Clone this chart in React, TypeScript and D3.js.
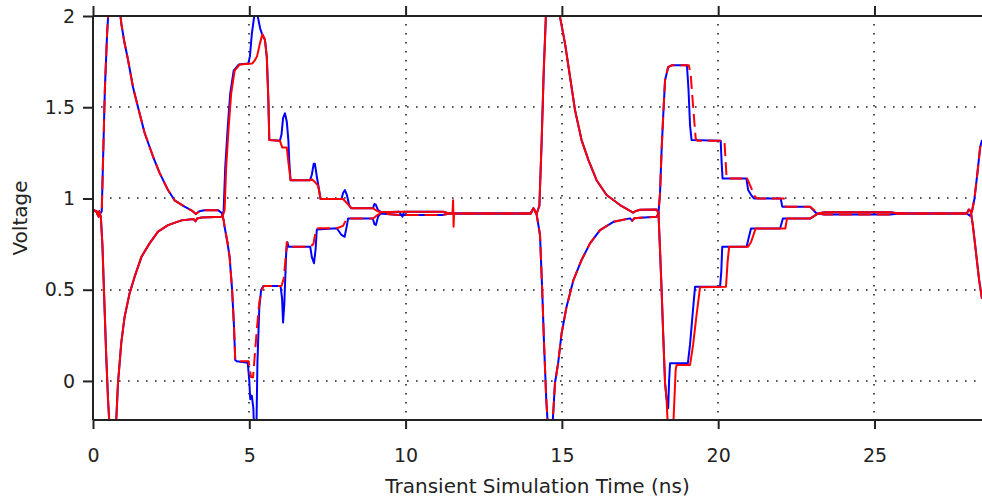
import React, { useEffect, useRef } from "react";
import * as d3 from "d3";

// axis setup
const xTicks = [0, 5, 10, 15, 20, 25];
const yTicks = [0, 0.5, 1, 1.5, 2];
const xDomain = [0, 28.44];
const yDomain = [-0.214, 2];
const xTitle = "Transient Simulation Time (ns)";
const yTitle = "Voltage";

// traces are [time ns, volts]
// P = dashed trace, N = solid trace
const pStart = [[0, 0.936], [0.12, 0.93], [0.18, 0.9], [0.24, 0.92], [0.28, 0.93], [0.32, 1.2], [0.38, 1.6], [0.45, 1.9], [0.52, 2.1], [0.62, 2.3], [0.75, 2.25], [0.85, 2.05], [0.905, 1.96], [1.0, 1.86], [1.12, 1.76], [1.28, 1.61], [1.44, 1.5], [1.65, 1.36], [1.92, 1.23], [2.13, 1.14], [2.4, 1.046], [2.61, 0.99], [2.93, 0.955], [3.15, 0.935], [3.29, 0.915], [3.4, 0.93], [3.57, 0.936], [4.0, 0.936], [4.12, 0.92], [4.18, 0.88], [4.21, 0.845], [4.3, 0.76], [4.37, 0.68], [4.45, 0.5], [4.51, 0.3], [4.55, 0.115], [4.6, 0.108]];
const pStepsRed1 = [[4.98, 0.108], [5.02, 0.06], [5.06, 0.02], [5.12, 0.02], [5.18, 0.15], [5.25, 0.3], [5.32, 0.43], [5.4, 0.5], [5.47, 0.52], [6.03, 0.52], [6.1, 0.56], [6.15, 0.65], [6.2, 0.76], [6.24, 0.735], [6.94, 0.735], [7.05, 0.75], [7.13, 0.827], [7.2, 0.837], [7.8, 0.837], [8.0, 0.85], [8.12, 0.89], [8.96, 0.89], [9.1, 0.91], [9.2, 0.918]];
const pStepsBlue1 = [[4.95, 0.1], [5.0, 0.0], [5.03, -0.1], [5.08, -0.08], [5.13, -0.15], [5.17, -0.35], [5.22, -0.35], [5.26, 0.1], [5.32, 0.4], [5.38, 0.5], [5.45, 0.52], [6.0, 0.52], [6.05, 0.45], [6.08, 0.32], [6.12, 0.42], [6.18, 0.7], [6.22, 0.76], [6.26, 0.735], [6.95, 0.735], [7.0, 0.68], [7.07, 0.645], [7.12, 0.72], [7.16, 0.83], [7.8, 0.837], [7.95, 0.8], [8.05, 0.79], [8.12, 0.85], [8.16, 0.89], [8.95, 0.89], [9.0, 0.86], [9.05, 0.855], [9.12, 0.9], [9.2, 0.918]];
const pMid = [[9.8, 0.91], [11.2, 0.91], [11.4, 0.918], [14.0, 0.918], [14.09, 0.946], [14.19, 0.915], [14.3, 0.8], [14.37, 0.5], [14.43, 0.2], [14.5, -0.1], [14.57, -0.3], [14.62, -0.4], [14.68, -0.3], [14.78, -0.01], [14.88, 0.097], [14.99, 0.26], [15.15, 0.407], [15.37, 0.553], [15.63, 0.663], [15.9, 0.754], [16.22, 0.827], [16.65, 0.872], [17.18, 0.891], [17.25, 0.878], [17.32, 0.892], [17.5, 0.895], [18.03, 0.9], [18.09, 0.918], [18.14, 1.03], [18.19, 1.265], [18.24, 1.447], [18.3, 1.648], [18.4, 1.72], [18.51, 1.73]];
const pStepsRed2 = [[19.06, 1.73], [19.12, 1.68], [19.2, 1.5], [19.28, 1.33], [19.33, 1.316], [20.2, 1.316], [20.24, 1.2], [20.27, 1.11], [20.8, 1.11], [20.9, 1.12], [21.0, 1.08], [21.18, 1.01], [21.25, 1.0], [22.1, 1.0], [22.16, 0.955], [22.94, 0.955], [23.2, 0.918]];
const pStepsBlue2 = [[19.0, 1.73], [19.05, 1.6], [19.1, 1.4], [19.15, 1.32], [20.08, 1.316], [20.11, 1.2], [20.14, 1.11], [20.9, 1.11], [20.96, 1.046], [21.05, 1.02], [21.15, 1.0], [22.0, 1.0], [22.05, 0.955], [22.94, 0.955], [23.15, 0.918]];
const pEnd = [[23.4, 0.912], [25.5, 0.912], [25.8, 0.918], [27.95, 0.918], [28.05, 0.905], [28.12, 0.93], [28.2, 1.0], [28.3, 1.15], [28.38, 1.28], [28.44, 1.32]];

const nStart = [[0, 0.936], [0.1, 0.93], [0.15, 0.91], [0.2, 0.93], [0.25, 0.9], [0.3, 0.75], [0.36, 0.45], [0.42, 0.15], [0.48, -0.1], [0.53, -0.25], [0.6, -0.35], [0.72, -0.3], [0.77, -0.12], [0.8, -0.01], [0.905, 0.21], [1.01, 0.35], [1.17, 0.48], [1.33, 0.57], [1.55, 0.68], [1.81, 0.754], [2.08, 0.818], [2.4, 0.854], [2.83, 0.88], [3.22, 0.887], [3.28, 0.875], [3.33, 0.89], [3.47, 0.896], [4.14, 0.9]];
const nRiseRed = [[4.21, 0.936], [4.26, 1.17], [4.34, 1.39], [4.42, 1.575], [4.53, 1.7], [4.69, 1.734], [5.1, 1.74], [5.18, 1.758], [5.25, 1.78], [5.34, 1.85], [5.42, 1.9], [5.5, 1.87], [5.56, 1.776], [5.61, 1.54], [5.64, 1.32], [5.98, 1.317], [6.05, 1.28], [6.2, 1.28], [6.25, 1.2], [6.32, 1.1], [6.94, 1.1], [7.0, 1.105], [7.1, 1.09], [7.2, 1.07], [7.28, 0.997], [8.0, 0.997], [8.15, 0.97], [8.27, 0.946], [8.96, 0.946], [9.1, 0.93], [9.23, 0.925]];
const nRiseBlue = [[4.18, 0.936], [4.23, 1.17], [4.31, 1.39], [4.39, 1.575], [4.5, 1.7], [4.66, 1.734], [4.97, 1.74], [5.02, 1.78], [5.08, 1.9], [5.15, 1.99], [5.22, 2.05], [5.28, 1.99], [5.35, 1.93], [5.4, 1.905], [5.5, 1.87], [5.56, 1.776], [5.61, 1.54], [5.64, 1.32], [5.98, 1.317], [6.03, 1.35], [6.08, 1.44], [6.14, 1.467], [6.2, 1.42], [6.25, 1.32], [6.28, 1.2], [6.32, 1.1], [6.94, 1.1], [7.0, 1.13], [7.06, 1.19], [7.1, 1.19], [7.16, 1.12], [7.22, 1.06], [7.28, 0.997], [7.95, 0.997], [8.0, 1.03], [8.06, 1.046], [8.12, 1.02], [8.2, 0.96], [8.27, 0.946], [8.96, 0.946], [9.0, 0.97], [9.05, 0.965], [9.12, 0.935], [9.23, 0.925]];
const nMidRed = [[9.8, 0.927], [11.2, 0.927], [11.4, 0.918], [11.5, 0.918], [11.52, 0.99], [11.535, 0.845], [11.55, 0.918]];
const nMidBlue = [[9.8, 0.927], [9.9, 0.9], [9.95, 0.927], [11.2, 0.927], [11.4, 0.918]];
const nPulse2 = [[14.0, 0.918], [14.09, 0.946], [14.19, 0.915], [14.28, 0.96], [14.35, 1.3], [14.42, 1.7], [14.5, 2.05], [14.6, 2.4], [14.75, 2.4], [14.9, 2.08], [14.94, 1.995], [15.1, 1.85], [15.26, 1.667], [15.42, 1.484], [15.63, 1.32], [15.85, 1.21], [16.11, 1.1], [16.43, 1.019], [16.86, 0.964], [17.28, 0.922], [17.35, 0.93], [17.5, 0.938], [18.03, 0.94], [18.09, 0.92], [18.14, 0.717], [18.19, 0.5], [18.24, 0.26], [18.3, -0.01], [18.35, -0.1]];
const nStepsRed2 = [[18.4, -0.3], [18.55, -0.3], [18.6, -0.1], [18.64, 0.06], [18.67, 0.088], [19.1, 0.088], [19.2, 0.2], [19.3, 0.35], [19.42, 0.513], [20.25, 0.516], [20.3, 0.65], [20.35, 0.735], [20.95, 0.735], [21.05, 0.76], [21.2, 0.836], [22.15, 0.836], [22.2, 0.89], [22.94, 0.89], [23.2, 0.918]];
const nStepsBlue2 = [[18.4, -0.15], [18.43, 0.0], [18.46, 0.097], [19.03, 0.097], [19.1, 0.2], [19.2, 0.4], [19.26, 0.516], [20.06, 0.516], [20.1, 0.6], [20.13, 0.735], [20.91, 0.735], [20.97, 0.78], [21.05, 0.836], [21.98, 0.836], [22.07, 0.89], [22.94, 0.89], [23.2, 0.918]];
const nEnd = [[23.4, 0.925], [25.5, 0.925], [25.8, 0.918], [27.95, 0.918], [28.02, 0.94], [28.08, 0.93], [28.15, 0.85], [28.25, 0.7], [28.35, 0.55], [28.44, 0.45]];

const pBlue = [...pStart, ...pStepsBlue1, ...pMid, ...pStepsBlue2, ...pEnd];
const pRed = [...pStart, ...pStepsRed1, ...pMid, ...pStepsRed2, ...pEnd];
const nBlue = [...nStart, ...nRiseBlue, ...nMidBlue, ...nPulse2, ...nStepsBlue2, ...nEnd];
const nRed = [...nStart, ...nRiseRed, ...nMidRed, ...nPulse2, ...nStepsRed2, ...nEnd];

const W = 982, H = 500;
const margin = { top: 16, right: 0, bottom: 80, left: 93 };
const font = "'DejaVu Sans', sans-serif";

function Chart() {
    const ref = useRef<SVGSVGElement>(null);

    useEffect(() => {
        const svg = d3.select(ref.current);
        svg.selectAll("*").remove();

        const x = d3.scaleLinear().domain(xDomain).range([margin.left, W - margin.right]);
        const y = d3.scaleLinear().domain(yDomain).range([H - margin.bottom, margin.top]);
        const x0 = x.range()[0], x1 = x.range()[1];
        const yTop = y.range()[1], yBot = y.range()[0];

        svg.append("defs").append("clipPath").attr("id", "plotclip")
            .append("rect")
            .attr("x", x0).attr("y", yTop)
            .attr("width", x1 - x0).attr("height", yBot - yTop);

        // dotted grid
        const grid = svg.append("g").attr("stroke", "#222").attr("stroke-width", 1.6)
            .attr("stroke-dasharray", "1.6 7.4");
        grid.selectAll("line.v").data(xTicks.filter(d => d > 0)).enter().append("line")
            .attr("class", "v")
            .attr("x1", d => Math.round(x(d))).attr("x2", d => Math.round(x(d)))
            .attr("y1", yTop + 8).attr("y2", yBot);
        grid.selectAll("line.h").data(yTicks.filter(d => d < 2)).enter().append("line")
            .attr("class", "h")
            .attr("x1", x0 + 8).attr("x2", x1)
            .attr("y1", d => Math.round(y(d))).attr("y2", d => Math.round(y(d)));

        // traces
        const line = d3.line<number[]>().x(d => x(d[0])).y(d => y(d[1]));
        const traces = svg.append("g").attr("clip-path", "url(#plotclip)").attr("fill", "none")
            .attr("stroke-width", 2).attr("stroke-linejoin", "round");
        traces.append("path").datum(nBlue).attr("d", line).attr("stroke", "#0000ff");
        traces.append("path").datum(pBlue).attr("d", line).attr("stroke", "#0000ff");
        traces.append("path").datum(nRed).attr("d", line).attr("stroke", "#ff0000");
        traces.append("path").datum(pRed).attr("d", line).attr("stroke", "#ff0000")
            .attr("stroke-dasharray", "13 6");

        // axes
        const bottom = svg.append("g").attr("transform", "translate(0," + yBot + ")")
            .call(d3.axisBottom(x).tickValues(xTicks).tickSize(9).tickPadding(20).tickSizeOuter(0));
        const top = svg.append("g").attr("transform", "translate(0," + yTop + ")")
            .call(d3.axisTop(x).tickValues(xTicks).tickSize(10).tickFormat(() => "").tickSizeOuter(0));
        const left = svg.append("g").attr("transform", "translate(" + x0 + ",0)")
            .call(d3.axisLeft(y).tickValues(yTicks).tickSize(10).tickPadding(8).tickSizeOuter(0)
                .tickFormat(d3.format("")));

        [bottom, top, left].forEach(g => {
            g.select(".domain").remove();
            g.selectAll("line").attr("stroke", "#222").attr("stroke-width", 2);
            g.selectAll("text").attr("fill", "#222").style("font-family", font).style("font-size", "19px");
        });

        // frame
        svg.append("line").attr("x1", x0).attr("x2", x1).attr("y1", yTop).attr("y2", yTop)
            .attr("stroke", "#222").attr("stroke-width", 2);
        svg.append("line").attr("x1", x0).attr("x2", x1).attr("y1", yBot).attr("y2", yBot)
            .attr("stroke", "#222").attr("stroke-width", 2);
        svg.append("line").attr("x1", x0).attr("x2", x0).attr("y1", yTop).attr("y2", yBot)
            .attr("stroke", "#222").attr("stroke-width", 2);

        // titles
        svg.append("text")
            .attr("x", (x0 + x1) / 2).attr("y", 493)
            .attr("text-anchor", "middle")
            .style("font-family", font).style("font-size", "20px").attr("fill", "#222")
            .text(xTitle);
        svg.append("text")
            .attr("transform", "translate(27," + (yTop + yBot) / 2 + ") rotate(-90)")
            .attr("text-anchor", "middle")
            .style("font-family", font).style("font-size", "20px").attr("fill", "#222")
            .text(yTitle);
    }, []);

    return (
        <svg ref={ref} width={W} height={H}
            style={{ position: "absolute", left: 0, top: 0, background: "#fff" }} />
    );
}

export default function App() {
    return <Chart />;
}
